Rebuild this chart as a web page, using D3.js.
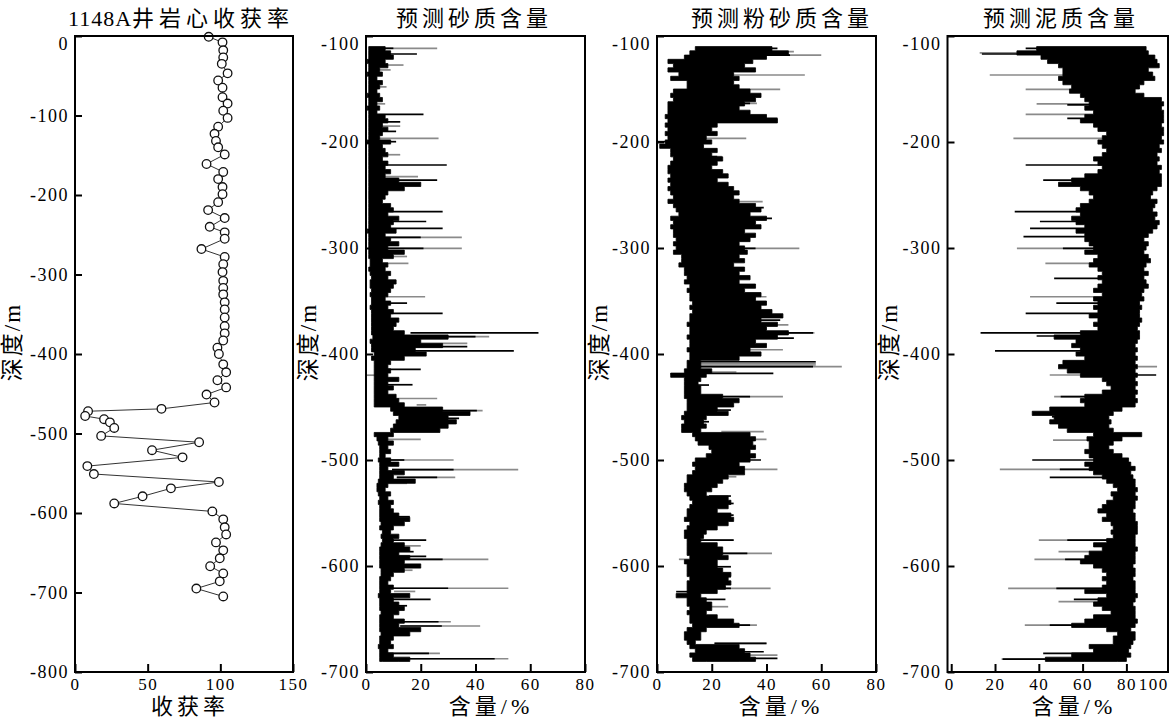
<!DOCTYPE html>
<html><head><meta charset="utf-8">
<script src="https://cdn.jsdelivr.net/npm/d3@7"></script>
<style>
body{margin:0;background:#fff}
svg{display:block}
text{font-family:"Liberation Serif","Noto Sans CJK SC",serif;fill:#000}
</style></head><body>
<svg id="chart" width="1174" height="721"></svg>
<script>
// ---------- Panel 1: core recovery ----------
const coreDepth = [-1,-8,-18,-27,-35,-47,-56,-65,-77,-85,-94,-103,-114,-123,-132,-140,-149,-161,-171,-180,-190,-199,-209,-219,-229,-240,-247,-255,-268,-278,-287,-297,-308,-317,-325,-335,-344,-354,-365,-374,-383,-392,-400,-413,-423,-433,-442,-451,-461,-469,-472,-478,-482,-486,-493,-503,-511,-521,-530,-541,-551,-561,-569,-579,-588,-598,-608,-618,-627,-637,-647,-657,-667,-676,-686,-695,-705];
const coreRecovery = [92,101.5,102,102,101,105,98.5,101.5,101.5,105,102,105,98.5,96,97,98.5,103,90.5,102,98.5,101.5,101.5,98.5,91.6,103,92.7,103,103,87,103,102,101.5,102,102,102,103,103,103,103,103,102,98,99,102,104,98,104,90.5,96,59.5,9,7,20,24,27,18,85.4,53,74,8.5,13,99,66,46.5,27,94.5,102,103,104,97,102,99.6,93,102,99.6,83.5,102];

// ---------- Panels 2-4: predicted contents (4 m sample grid, band low/high edges) ----------
const gridDepth = d3.range(-110, -691, -4);

const sandLo = [1,1,1,0.5,1,1,0.5,1,1,1, 1,0.5,1,1,0.5,1,1,1,1,1, 1,1,0.5,1,1,1,1,1,1,1, 1,1,1,1,1,1,1,1,1,1, 1,1,1,0.5,1,1,1,1,1,1,
 1.5,1.5,1,1.5,2,1.5,1.5,2,1.5,2, 2,1.5,2,2,2,2,2,2,2.5,1.5, 2,2,3,2,3,3,3,3,3,3, 3,3,3,3,3,9,10,12,11,10, 9,3,4,4.5,5,5,5,4.5,5,5,
 5,5,4.5,4,4,4.5,5,4.5,5,5, 5,5,5.5,5,6,5.5,6,5.5,5,5, 5,5,5,5.5,5.5,5,5,5,5,4.5, 5,5,5,5.5,5,5,5,5,5.5,5, 5,4.5,5,5,5,6];
const sandHi = [7,9,10,7,8,5,6,4,6,5, 4,5,6,4,5,4,7,8,6,8, 6,5,9,6,7,8,6,8,7,9, 7,12,20,14,8,7,6,9,10,8, 12,10,9,11,7,9,12,8,14,10,
 6,8,7,9,8,11,10,9,8,7, 9,8,10,9,12,11,10,14,30,20, 28,18,22,14,9,8,9,8,12,8, 10,8,11,12,14,28,38,30,33,30, 27,10,8,10,8,9,7,9,12,8,
 14,10,18,8,7,9,8,10,9,10, 12,16,14,10,9,12,10,14,16,12, 16,14,20,14,10,9,8,10,9,16, 10,12,14,12,10,14,12,20,16,10, 9,10,8,10,16,12];
const sandBlackSpikes = [[-111.6,10],[-117,18.6],[-174,21],[-181,12.5],[-190,11],[-199.7,11],[-221.7,29.5],[-236,26],[-265.7,28],[-275,22],[-281.4,28],[-290,20],[-300.3,21],[-352,15],[-361.6,28],[-380,63],[-383.6,40],[-393,37],[-397,54],[-414.5,20],[-429,17],[-453.5,40.5],[-460.7,34],[-500,14],[-509,32],[-516.4,26],[-553.5,16],[-575.5,22],[-586.5,17.4],[-591,22],[-593.7,28],[-621,30],[-631.5,23.6],[-637.5,15],[-652.6,26.5],[-656.6,27.7],[-682.4,23],[-687.5,47]];
const sandGraySpikes = [[-111.6,26],[-127.4,13.7],[-132,9],[-148,7.5],[-164,7],[-185,12.5],[-196.5,26.5],[-212,12.5],[-232.7,19],[-290,35],[-300.3,35],[-308,15],[-314.5,15.5],[-346,21.6],[-383.6,45],[-390,37],[-420,0],[-442,26],[-448,22],[-453.5,42.6],[-480.5,20],[-500,32],[-509,55.6],[-516.4,32.6],[-522,15],[-581,20],[-593.7,44.7],[-604,17],[-621,52],[-624,18],[-652.6,31],[-656.6,41.7],[-682.4,27],[-687.5,52]];

const siltLo = [14,12,10,4,6,4,8,5,11,11, 6,5,6,4,4,4,3,4,3,4, 3,4,3,1,5,5,6,5,4,4, 5,4,5,4,5,6,4,6,7,8, 5,6,5,6,6,7,6,7,6,9,
 9,8,10,10,11,10,12,11,12,12, 13,12,13,12,12,11,12,12,11,12, 12,11,12,12,11,11,10,5,10,10, 10,10,10,11,11,11,10,9,10,9, 9,13,14,15,19,20,18,14,13,14,
 13,11,11,10,10,11,12,13,12,11, 11,10,12,11,10,10,11,11,11,11, 12,10,11,11,11,12,11,11,11,7, 11,11,12,11,12,12,13,11,10,10, 11,12,14,12,13,18];
const siltHi = [42,48,40,35,32,36,28,30,28,30, 34,38,36,32,30,34,40,44,22,20, 22,18,20,17,22,20,24,22,20,24, 26,22,26,28,30,28,30,36,38,34, 40,36,38,32,36,34,30,32,33,30,
 32,28,32,30,34,30,36,32,38,36, 40,38,42,46,38,44,40,48,44,36, 40,34,38,30,16,16,20,18,16,15, 16,16,24,30,28,22,26,18,17,18, 16,34,36,35,36,34,36,34,30,32,
 32,26,24,22,20,18,26,27,26,22, 27,28,26,22,18,17,16,22,24,24, 26,22,22,24,27,26,27,25,22,16, 18,20,20,18,22,28,30,18,16,16, 14,30,32,34,36,30];
const siltBlackSpikes = [[-111.6,44],[-118,48.6],[-163.5,34],[-177.7,44],[-199.7,0],[-213.8,22],[-262,39],[-272,42],[-300.3,36],[-328.6,30],[-346,36],[-368,45],[-380,57],[-385,50],[-407.3,58],[-412,57],[-418.3,42.5],[-418.8,5],[-429.3,19],[-440.3,34],[-452.9,27],[-463.9,19],[-500,38],[-508.9,32],[-534,27],[-541,28],[-552,28],[-575.5,28],[-588.1,33],[-600.7,27],[-610.1,27],[-621.1,27],[-624.2,7],[-631.5,25],[-655.7,34],[-673,40],[-680.9,39],[-687.1,44]];
const siltGraySpikes = [[-114.8,50],[-118,60],[-136.8,54],[-150.3,45],[-163.5,36.5],[-196.5,32.6],[-213.8,23.7],[-256.3,38.6],[-300.3,52],[-346,40],[-372.6,48],[-380,57.5],[-396,46],[-408.8,58],[-410.4,58],[-412,67.5],[-417,29],[-440.3,46],[-473.3,39],[-480.5,40],[-508.9,44],[-515.8,29],[-575.5,28],[-588.1,42],[-593.7,8],[-621.1,41.5],[-638.4,26],[-655.7,36.5],[-673,40],[-684,44]];

const mudLo = [39,30,41,44,49,51,51,49,51,55, 54,59,61,63,61,65,61,59,65,67, 71,69,67,69,71,69,65,67,69,67, 61,55,49,59,63,65,63,59,57,59, 55,57,61,57,61,61,63,65,61,67,
 65,63,67,69,67,69,67,65,69,65, 67,65,67,63,67,65,67,59,47,57, 55,59,57,61,51,49,53,59,69,71, 73,69,61,59,61,45,37,47,45,49, 53,65,62,63,63,61,63,65,61,63,
 65,69,71,74,76,73,74,71,69,67, 71,69,73,74,73,74,71,65,69,63, 61,59,65,69,71,69,71,69,61,71, 67,65,69,73,65,61,55,71,76,74, 74,63,65,55,43,61];
const mudHi = [89,90,93,94,95,90,92,93,88,86, 84,88,96,97,96,97,97,97,96,97, 97,96,97,95,96,94,95,94,96,95, 96,96,96,94,92,91,94,93,92,94, 93,95,94,92,90,88,90,89,88,90,
 91,89,88,90,88,89,90,88,87,88, 86,87,86,86,87,86,85,86,86,85, 84,85,84,85,84,85,84,85,84,85, 84,85,84,85,84,78,74,72,73,72, 74,87,78,74,72,74,78,81,82,84,
 82,83,84,84,85,84,85,84,84,83, 84,84,85,85,85,84,84,84,85,84, 84,84,83,84,84,83,84,84,84,85, 84,83,84,84,84,85,84,82,84,84, 83,82,81,82,80,76];
const mudBlackSpikes = [[-111.6,34],[-117,14],[-165,53],[-177.7,53],[-221.7,34],[-236,42],[-265.7,29],[-275,40.5],[-281.4,36],[-289.3,33],[-300.3,51],[-328.6,47],[-352,48],[-361.6,34],[-380,13.4],[-383,39],[-397,20],[-419.8,93.6],[-440.3,50],[-459.2,46],[-500,37],[-508.9,49.6],[-516.4,45],[-575.5,53],[-593.7,52],[-621.1,48],[-631.5,56],[-655.7,45],[-682.4,42],[-687.8,23.5]];
const mudGraySpikes = [[-116,13],[-136.8,17.6],[-150.3,34],[-164,39],[-174,34],[-196.5,28.4],[-300.3,30],[-314.5,43],[-346,36],[-412,94],[-419.8,45],[-440.3,47],[-481.2,46.5],[-508.9,22.2],[-575.5,40],[-586.5,49],[-593.7,38],[-621.1,26],[-633.7,49],[-655.7,33.6],[-687.8,23]];

// ---------- Labels & ticks ----------
const panelTitles = ['预测砂质含量','预测粉砂质含量','预测泥质含量'];
const xTicks1 = [0,50,100,150];
const xTicksContent = [0,20,40,60,80];
const xTicksMud = [0,20,40,60,80,100];
const yTicks1 = [0,-100,-200,-300,-400,-500,-600,-700,-800];
const yTicksContent = [-100,-200,-300,-400,-500,-600,-700];

// ---------- Drawing ----------
const svg = d3.select('#chart');
const TOP = 36, BOTTOM = 672;

const layout = [
  {left:75, right:293, xd:[0,150], yd:[0,-800], xt:xTicks1, yt:yTicks1, tx:181, xl:'收获率', xlx:190, ylx:20},
  {left:366, right:585, xd:[0,80], yd:[-100,-700], xt:xTicksContent, yt:yTicksContent, tx:474, xl:'含量/%', xlx:491, ylx:316,
   lo:sandLo, hi:sandHi, bs:sandBlackSpikes, gs:sandGraySpikes, title:panelTitles[0]},
  {left:657, right:876, xd:[0,80], yd:[-100,-700], xt:xTicksContent, yt:yTicksContent, tx:782, xl:'含量/%', xlx:781, ylx:607,
   lo:siltLo, hi:siltHi, bs:siltBlackSpikes, gs:siltGraySpikes, title:panelTitles[1]},
  {left:947.5, right:1168, xd:[-1.7,99], yd:[-100,-700], xt:xTicksMud, yt:yTicksContent, tx:1061, xl:'含量/%', xlx:1074, ylx:897,
   lo:mudLo, hi:mudHi, bs:mudBlackSpikes, gs:mudGraySpikes, title:panelTitles[2]}
];

layout.forEach((p, pi) => {
  const g = svg.append('g');
  const x = d3.scaleLinear(p.xd, [p.left, p.right]);
  const y = d3.scaleLinear(p.yd, [TOP, BOTTOM]);

  if (pi === 0) {
    const pts = coreDepth.map((d,i)=>({d, v:coreRecovery[i]}));
    g.append('path').datum(pts)
      .attr('d', d3.line().x(r=>x(r.v)).y(r=>y(r.d)))
      .attr('fill','none').attr('stroke','#333').attr('stroke-width',1);
    g.selectAll('circle').data(pts).join('circle')
      .attr('cx', r=>x(r.v)).attr('cy', r=>y(r.d)).attr('r',4.3)
      .attr('fill','#fff').attr('stroke','#111').attr('stroke-width',1.3);
  } else {
    const rows = gridDepth.map((d,i)=>({d, lo:p.lo[i], hi:p.hi[i]}));
    const center = dep => {
      let i = Math.round((-dep - 110)/4);
      i = Math.max(0, Math.min(rows.length-1, i));
      return (rows[i].lo + rows[i].hi)/2;
    };
    g.selectAll('line.gs').data(p.gs).join('line').attr('class','gs')
      .attr('x1', s=>x(center(s[0]))).attr('x2', s=>x(s[1]))
      .attr('y1', s=>y(s[0])).attr('y2', s=>y(s[0]))
      .attr('stroke','#8a8a8a').attr('stroke-width',1.7);
    g.append('path').datum(rows)
      .attr('d', d3.area().y(r=>y(r.d)).x0(r=>x(r.lo)).x1(r=>x(r.hi)).curve(d3.curveStepBefore))
      .attr('fill','#000').attr('stroke','#000').attr('stroke-width',0.8);
    g.selectAll('line.bs').data(p.bs).join('line').attr('class','bs')
      .attr('x1', s=>x(center(s[0]))).attr('x2', s=>x(s[1]))
      .attr('y1', s=>y(s[0])).attr('y2', s=>y(s[0]))
      .attr('stroke','#000').attr('stroke-width',1.7);
  }

  // frame
  g.append('rect').attr('x',p.left).attr('y',TOP)
    .attr('width',p.right-p.left).attr('height',BOTTOM-TOP)
    .attr('fill','none').attr('stroke','#000').attr('stroke-width',2);

  // y axis
  const ya = g.append('g').attr('transform',`translate(${p.left},0)`)
    .call(d3.axisLeft(y).tickValues(p.yt).tickSize(-7).tickPadding(6).tickFormat(d=>String(d)));
  ya.select('.domain').remove();
  ya.selectAll('.tick line').attr('stroke','#000').attr('stroke-width',2);
  ya.selectAll('.tick text').attr('font-size',18).attr('letter-spacing','1.5px')
    .attr('font-family','"Liberation Serif",serif');
  ya.selectAll('.tick text').filter(d=>d===p.yd[0]).attr('dy','0.75em');

  // x axis
  const xa = g.append('g').attr('transform',`translate(0,${BOTTOM})`)
    .call(d3.axisBottom(x).tickValues(p.xt).tickSize(-8).tickPadding(6).tickFormat(d=>String(d)));
  xa.select('.domain').remove();
  xa.selectAll('.tick line').attr('stroke','#000').attr('stroke-width',2);
  xa.selectAll('.tick text').attr('font-size',17).attr('letter-spacing','1.5px')
    .attr('font-family','"Liberation Serif",serif');
  if (pi === 3) {
    const last = xa.selectAll('.tick').filter(d=>d===100);
    last.select('line').remove();
    last.select('text').attr('dx',-17);
    xa.selectAll('.tick').filter(d=>d===0).select('text').attr('dx',-2);
  }

  // title
  const t = svg.append('text').attr('x',p.tx).attr('y',26).attr('text-anchor','middle').attr('font-size',22);
  if (pi === 0) {
    t.append('tspan').attr('letter-spacing','1px').text('1148A');
    t.append('tspan').attr('letter-spacing','5px').text('井岩心收获率');
  } else {
    t.attr('letter-spacing','4px').text(p.title);
  }

  // x label
  svg.append('text').attr('x',p.xlx).attr('y',714).attr('text-anchor','middle')
    .attr('font-size',22).attr('letter-spacing','4px').text(p.xl);

  // y label
  svg.append('text').attr('transform',`translate(${p.ylx},342) rotate(-90)`)
    .attr('text-anchor','middle').attr('font-size',23).attr('letter-spacing','2px').text('深度/m');
});
</script>
</body></html>
